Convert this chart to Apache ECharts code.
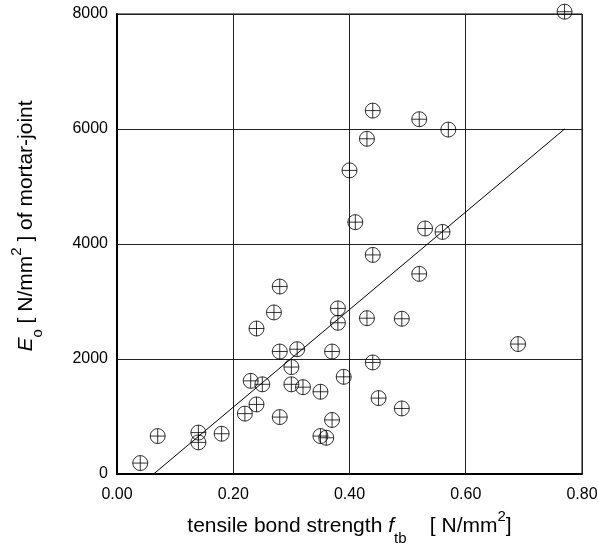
<!DOCTYPE html>
<html>
<head>
<meta charset="utf-8">
<script src="https://cdn.jsdelivr.net/npm/echarts@6/dist/echarts.min.js"></script>
<style>
  html, body { margin: 0; padding: 0; background: #fff; }
  #chart { width: 598px; height: 549px; }
</style>
</head>
<body>
<div id="chart"></div>
<script>
  // tensile bond strength f_tb [N/mm2]
  var bondStrength = [
    0.77, 0.44, 0.52, 0.57, 0.43, 0.40, 0.41, 0.53, 0.56, 0.44, 0.52,
    0.28, 0.27, 0.38, 0.38, 0.43, 0.49, 0.24, 0.69, 0.28, 0.31, 0.37,
    0.44, 0.30, 0.23, 0.25, 0.30, 0.32, 0.39, 0.35, 0.45, 0.49, 0.24,
    0.22, 0.28, 0.37, 0.07, 0.14, 0.14, 0.18, 0.35, 0.36, 0.04
  ]
  // E_o of mortar joint [N/mm2]
  var modulusE = [
    8040, 6320, 6170, 5990, 5830, 5280, 4380, 4270, 4210, 3810, 3480,
    3260, 2810, 2880, 2630, 2710, 2700, 2530, 2260, 2130, 2170, 2130,
    1940, 1860, 1620, 1560, 1560, 1510, 1690, 1430, 1320, 1140, 1210,
    1050, 990, 940, 660, 720, 550, 700, 660, 630, 190
  ]
  // regression line end points
  var fitX = [0.063, 0.77]
  var fitY = [0, 6000]

  var xTicks = [0, 0.2, 0.4, 0.6, 0.8]
  var yTicks = [0, 2000, 4000, 6000, 8000]

  var points = bondStrength.map(function (x, i) {
    return [x, modulusE[i]]
  })
  var fitLine = fitX.map(function (x, i) {
    return [x, fitY[i]]
  })

  // circle with a cross inside
  var crossCircle = 'path://M0,-10 A10,10 0 1,1 0,10 A10,10 0 1,1 0,-10 Z M-10,0 L10,0 M0,-10 L0,10'

  var chart = echarts.init(document.getElementById('chart'))
  var font = 'Liberation Sans, Arial, sans-serif'
  var option = {
    animation: false,
    backgroundColor: '#fff',
    grid: {
      left: 117,
      right: 16,
      top: 14,
      bottom: 75,
      outerBoundsMode: 'none',
      containLabel: false,
      show: true,
      borderColor: '#000',
      borderWidth: 1,
    },
    xAxis: {
      type: 'value',
      min: xTicks[0],
      max: xTicks[xTicks.length - 1],
      interval: 0.2,
      axisLine: { show: true, onZero: false, lineStyle: { color: '#000', width: 2 } },
      axisTick: { show: false },
      splitLine: { show: true, lineStyle: { color: '#222', width: 1 } },
      axisLabel: {
        color: '#000',
        fontFamily: font,
        fontSize: 16,
        margin: 13,
        formatter: function (v) {
          return v.toFixed(2)
        },
      },
      name: '{t|tensile bond strength }{i|f}{s|tb}{t|    [ N/mm}{p|2}{t|]}',
      nameLocation: 'middle',
      nameGap: 33,
      nameTextStyle: {
        rich: {
          t: { fontFamily: font, fontSize: 21, color: '#000' },
          i: { fontFamily: font, fontSize: 21, fontStyle: 'italic', color: '#000' },
          s: { fontFamily: font, fontSize: 15, color: '#000', padding: [24, 0, 0, 0] },
          p: { fontFamily: font, fontSize: 15, color: '#000', padding: [0, 0, 20, 0] },
        },
      },
    },
    yAxis: {
      type: 'value',
      min: yTicks[0],
      max: yTicks[yTicks.length - 1],
      interval: 2000,
      axisLine: { show: true, lineStyle: { color: '#000', width: 2 } },
      axisTick: { show: false },
      splitLine: { show: true, lineStyle: { color: '#222', width: 1 } },
      axisLabel: {
        color: '#000',
        fontFamily: font,
        fontSize: 16,
        margin: 9,
        formatter: function (v) {
          return String(v)
        },
      },
      name: '{i|E}{s|o}{t| [ N/mm}{p|2}{t| ] of mortar-joint}',
      nameLocation: 'middle',
      nameGap: 72,
      nameTextStyle: {
        padding: [0, 0, 0, 36],
        rich: {
          t: { fontFamily: font, fontSize: 21, color: '#000' },
          i: { fontFamily: font, fontSize: 21, fontStyle: 'italic', color: '#000' },
          s: { fontFamily: font, fontSize: 15, color: '#000', padding: [22, 0, 0, 0] },
          p: { fontFamily: font, fontSize: 15, color: '#000', padding: [0, 0, 20, 0] },
        },
      },
    },
    series: [
      {
        type: 'line',
        data: fitLine,
        showSymbol: false,
        lineStyle: { color: '#000', width: 1 },
        silent: true,
      },
      {
        type: 'scatter',
        data: points,
        clip: false,
        symbol: crossCircle,
        symbolSize: 15,
        itemStyle: { color: 'transparent', borderColor: '#000', borderWidth: 1 },
      },
    ],
  }
  chart.setOption(option)
</script>
</body>
</html>
